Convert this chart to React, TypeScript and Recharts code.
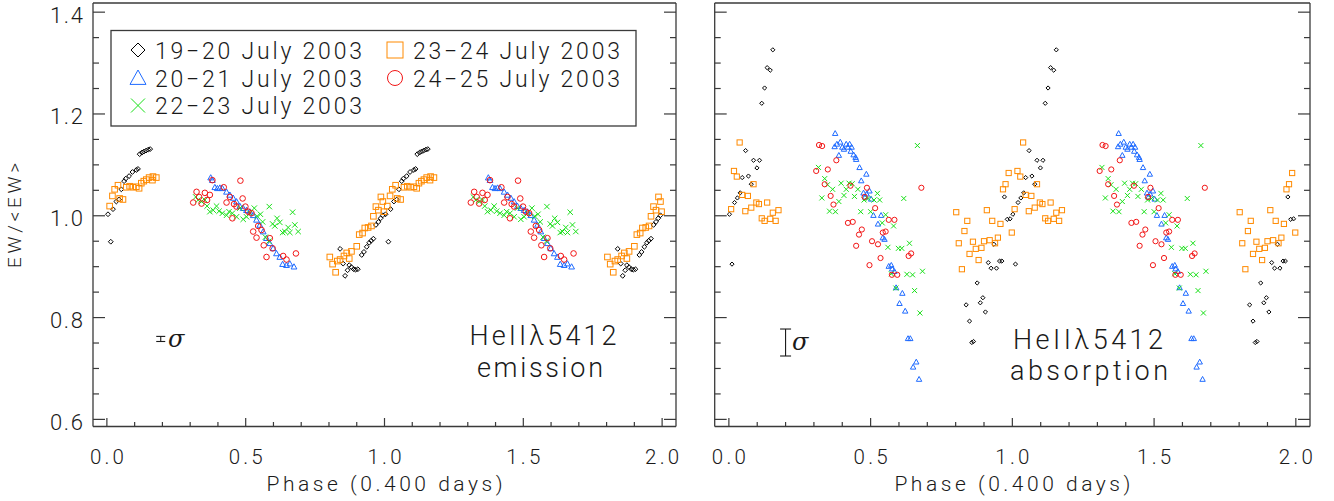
import React from "react";
import { ErrorBar, Scatter, ScatterChart, XAxis, YAxis } from "recharts";

type Pt = [number, number];

// phase-folded points for one cycle (phase 0-1); the plot shows the cycle twice
const seriesNames = [
  "19\u221220 July 2003",
  "20\u221221 July 2003",
  "22\u221223 July 2003",
  "23\u221224 July 2003",
  "24\u221225 July 2003"
];
const seriesColors = ["#000000", "#1f6bff", "#18e018", "#ff8a00", "#f21515"];
const seriesShapes = ["diamond", "triangle", "cross", "square", "circle"];

// HeII 5412 emission
const emJul19: Pt[] = [
  [0.004, 1.003], [0.014, 0.949], [0.022, 1.013], [0.034, 1.028], [0.044, 1.032], [0.052, 1.052],
  [0.062, 1.068], [0.068, 1.073], [0.08, 1.078], [0.092, 1.086], [0.106, 1.09], [0.112, 1.092],
  [0.118, 1.121], [0.126, 1.124], [0.133, 1.126], [0.141, 1.128], [0.149, 1.13], [0.156, 1.131],
  [0.84, 0.935], [0.851, 0.906], [0.858, 0.882], [0.867, 0.893], [0.873, 0.903], [0.881, 0.899],
  [0.889, 0.895], [0.896, 0.894], [0.904, 0.895], [0.918, 0.923], [0.926, 0.929], [0.936, 0.939],
  [0.945, 0.947], [0.952, 0.951], [0.96, 0.955], [0.969, 0.982], [0.978, 0.988], [0.986, 0.995],
  [0.994, 1.001]
];
const emJul20: Pt[] = [
  [0.374, 1.075], [0.38, 1.07], [0.389, 1.056], [0.398, 1.054], [0.407, 1.055], [0.416, 1.054],
  [0.431, 1.047], [0.443, 1.041], [0.455, 1.035], [0.467, 1.028], [0.479, 1.019], [0.491, 1.015],
  [0.503, 1.011], [0.515, 1.008], [0.527, 1.001], [0.539, 0.992], [0.551, 0.982], [0.563, 0.969],
  [0.575, 0.956], [0.587, 0.946], [0.599, 0.936], [0.611, 0.926], [0.623, 0.919], [0.633, 0.905],
  [0.647, 0.903], [0.659, 0.906], [0.674, 0.9]
];
const emJul22: Pt[] = [
  [0.32, 1.037], [0.329, 1.031], [0.341, 1.028], [0.353, 1.031], [0.361, 1.019], [0.371, 1.008],
  [0.383, 1.011], [0.395, 1.019], [0.404, 1.009], [0.416, 1.005], [0.431, 1.001], [0.44, 1.008],
  [0.452, 1.005], [0.467, 0.998], [0.479, 1.015], [0.491, 0.993], [0.503, 0.998], [0.515, 1.005],
  [0.531, 1.015], [0.541, 0.999], [0.553, 1.003], [0.561, 0.988], [0.571, 0.958], [0.583, 0.95],
  [0.585, 1.018], [0.597, 0.984], [0.605, 0.98], [0.613, 0.995], [0.623, 0.987], [0.633, 0.967],
  [0.641, 0.969], [0.653, 0.977], [0.659, 0.967], [0.669, 1.007], [0.677, 0.982], [0.689, 0.969]
];
const emJul23: Pt[] = [
  [0.01, 1.019], [0.02, 1.039], [0.028, 1.052], [0.04, 1.06], [0.046, 1.034], [0.058, 1.032],
  [0.07, 1.056], [0.082, 1.058], [0.094, 1.056], [0.106, 1.057], [0.116, 1.054], [0.124, 1.064],
  [0.133, 1.068], [0.142, 1.071], [0.152, 1.075], [0.164, 1.07], [0.166, 1.077], [0.178, 1.075],
  [0.803, 0.919], [0.813, 0.905], [0.824, 0.889], [0.83, 0.911], [0.84, 0.914], [0.854, 0.921],
  [0.864, 0.927], [0.873, 0.916], [0.881, 0.93], [0.9, 0.94], [0.909, 0.963], [0.921, 0.966],
  [0.929, 0.976], [0.941, 0.977], [0.953, 0.98], [0.96, 0.999], [0.969, 1.018], [0.978, 1.011],
  [0.987, 1.037], [0.994, 1.028], [0.998, 1.008]
];
const emJul24: Pt[] = [
  [0.311, 1.026], [0.323, 1.047], [0.332, 1.037], [0.341, 1.024], [0.353, 1.045], [0.361, 1.031],
  [0.371, 1.041], [0.38, 1.07], [0.421, 1.056], [0.431, 1.026], [0.443, 1.037], [0.452, 0.995],
  [0.458, 1.023], [0.467, 1.018], [0.481, 1.069], [0.489, 1.034], [0.499, 1.018], [0.509, 1.008],
  [0.521, 1.005], [0.527, 0.969], [0.539, 0.957], [0.545, 0.98], [0.557, 0.972], [0.565, 0.942],
  [0.575, 0.919], [0.587, 0.956], [0.597, 0.936], [0.635, 0.921], [0.647, 0.914], [0.681, 0.926]
];

// HeII 5412 absorption
const abJul19: Pt[] = [
  [0.002, 1.003], [0.011, 0.905], [0.02, 1.026], [0.03, 1.035], [0.04, 1.045], [0.047, 1.075],
  [0.059, 1.128], [0.069, 1.078], [0.079, 1.062], [0.087, 1.109], [0.099, 1.094], [0.108, 1.109],
  [0.116, 1.221], [0.126, 1.251], [0.135, 1.291], [0.146, 1.286], [0.155, 1.326],
  [0.837, 0.825], [0.849, 0.793], [0.857, 0.751], [0.863, 0.753], [0.876, 0.868], [0.887, 0.829],
  [0.896, 0.839], [0.905, 0.811], [0.915, 0.908], [0.925, 0.897], [0.935, 0.944], [0.944, 0.897],
  [0.955, 0.911], [0.963, 0.911], [0.972, 1.037], [0.982, 0.993], [0.992, 0.994]
];
const abJul20: Pt[] = [
  [0.373, 1.136], [0.375, 1.162], [0.381, 1.141], [0.388, 1.119], [0.393, 1.145], [0.4, 1.135],
  [0.406, 1.131], [0.414, 1.141], [0.42, 1.135], [0.426, 1.141], [0.43, 1.127], [0.433, 1.135],
  [0.44, 1.12], [0.447, 1.115], [0.449, 1.111], [0.461, 1.095], [0.467, 1.069], [0.475, 1.045],
  [0.48, 1.037], [0.485, 1.082], [0.486, 1.043], [0.496, 1.049], [0.502, 1.033], [0.51, 1.001],
  [0.526, 0.984], [0.537, 1.001], [0.543, 0.957], [0.549, 0.954], [0.564, 0.901], [0.573, 0.903],
  [0.576, 0.896], [0.584, 0.891], [0.59, 0.859], [0.602, 0.828], [0.612, 0.848], [0.622, 0.813],
  [0.632, 0.759], [0.64, 0.759], [0.65, 0.703], [0.661, 0.713], [0.671, 0.679]
];
const abJul22: Pt[] = [
  [0.316, 1.095], [0.328, 1.035], [0.338, 1.073], [0.348, 1.061], [0.355, 1.009], [0.366, 1.052],
  [0.376, 1.008], [0.388, 1.028], [0.396, 1.064], [0.406, 1.04], [0.414, 1.052], [0.424, 1.064],
  [0.435, 1.063], [0.443, 1.038], [0.455, 1.052], [0.465, 1.008], [0.477, 1.031], [0.491, 1.034],
  [0.5, 1.008], [0.512, 1.031], [0.524, 1.044], [0.532, 1.031], [0.541, 0.986], [0.553, 1.002],
  [0.561, 0.938], [0.573, 0.886], [0.581, 0.98], [0.589, 0.858], [0.598, 0.936], [0.61, 0.936],
  [0.617, 1.034], [0.628, 0.885], [0.637, 0.946], [0.648, 0.884], [0.655, 0.853], [0.665, 1.138],
  [0.674, 0.809], [0.683, 0.891]
];
const abJul23: Pt[] = [
  [0.008, 1.013], [0.018, 1.088], [0.028, 1.077], [0.038, 1.144], [0.047, 1.041], [0.058, 1.009],
  [0.067, 1.039], [0.079, 1.016], [0.087, 1.062], [0.097, 1.026], [0.106, 1.023], [0.116, 0.995],
  [0.126, 0.99], [0.135, 1.026], [0.146, 0.994], [0.155, 1.006], [0.165, 0.99], [0.175, 1.011],
  [0.802, 1.007], [0.811, 0.946], [0.822, 0.895], [0.831, 0.97], [0.841, 0.99], [0.849, 0.925],
  [0.861, 0.949], [0.871, 0.935], [0.881, 0.913], [0.891, 0.937], [0.9, 0.95], [0.91, 1.011],
  [0.92, 0.952], [0.929, 0.99], [0.939, 0.946], [0.949, 0.957], [0.958, 0.984], [0.967, 1.052],
  [0.976, 1.062], [0.987, 1.084], [0.998, 0.967]
];
const abJul24: Pt[] = [
  [0.308, 1.088], [0.318, 1.139], [0.329, 1.137], [0.338, 1.062], [0.349, 1.091], [0.359, 1.039],
  [0.369, 1.022], [0.379, 1.109], [0.42, 0.986], [0.429, 1.059], [0.437, 0.988], [0.449, 0.941],
  [0.459, 0.963], [0.469, 0.973], [0.479, 1.037], [0.487, 1.055], [0.496, 0.903], [0.505, 0.95],
  [0.516, 1.015], [0.526, 0.944], [0.535, 0.917], [0.543, 0.967], [0.553, 0.969], [0.564, 0.992],
  [0.575, 0.884], [0.584, 0.992], [0.594, 0.884], [0.634, 0.921], [0.643, 0.926], [0.679, 1.055]
];

// typical error bar (phase, EW, sigma)
const emSigma = [{ x: 0.194, y: 0.758, err: 0.005 }];
const abSigma = [{ x: 0.2, y: 0.751, err: 0.0265 }];

const xTicks = Array.from({ length: 21 }, (_, i) => i / 10);
const yTicks = Array.from({ length: 17 }, (_, i) => 0.6 + i * 0.05);

const X_DOMAIN: [number, number] = [-0.05, 2.05];
const Y_DOMAIN: [number, number] = [0.586, 1.418];
const AXIS = "#3a3a3a";
const INK = "#1a1a1a";
const FONT = "Roboto, 'DejaVu Sans', sans-serif";

function twoCycles(pts: Pt[]) {
  return pts.flatMap(([p, v]) => [{ x: p, y: v }, { x: p + 1, y: v }]);
}

const isMultiple = (v: number, step: number) => Math.abs(v / step - Math.round(v / step)) < 1e-6;

function Marker({ kind, color, cx, cy, s }: { kind: string; color: string; cx: number; cy: number; s: number }) {
  const common = { fill: "none", stroke: color, strokeWidth: 1 };
  if (kind === "diamond")
    return <path d={`M${cx},${cy - s}L${cx + s},${cy}L${cx},${cy + s}L${cx - s},${cy}Z`} {...common} />;
  if (kind === "triangle")
    return <path d={`M${cx},${cy - s}L${cx + s},${cy + s * 0.8}L${cx - s},${cy + s * 0.8}Z`} {...common} />;
  if (kind === "cross")
    return <path d={`M${cx - s},${cy - s}L${cx + s},${cy + s}M${cx - s},${cy + s}L${cx + s},${cy - s}`} {...common} />;
  if (kind === "square") return <rect x={cx - s} y={cy - s} width={2 * s} height={2 * s} {...common} />;
  return <circle cx={cx} cy={cy} r={s} {...common} />;
}

// inward tick marks (major/minor) plus optional labels
function bottomTick(props: any) {
  const { x, y, payload } = props;
  const major = isMultiple(payload.value, 0.5);
  return (
    <g>
      <line x1={x} x2={x} y1={y} y2={y - (major ? 8.5 : 4.5)} stroke={AXIS} strokeWidth={1.2} />
      {major && (
        <text x={x} y={y + 37.5} textAnchor="middle" fontSize={20.5} fontWeight={300} fill={INK} fontFamily={FONT} textLength={34} lengthAdjust="spacing">
          {Number(payload.value).toFixed(1)}
        </text>
      )}
    </g>
  );
}

function topTick(props: any) {
  const { x, y, payload } = props;
  const major = isMultiple(payload.value, 0.5);
  return <line x1={x} x2={x} y1={y} y2={y + (major ? 6 : 4.5)} stroke={AXIS} strokeWidth={1.2} />;
}

function leftTick(props: any, labels: boolean) {
  const { x, y, payload } = props;
  const major = isMultiple(payload.value, 0.2);
  return (
    <g>
      <line x1={x} x2={x + (major ? 12 : 6)} y1={y} y2={y} stroke={AXIS} strokeWidth={1.2} />
      {labels && major && (
        <text x={x - 10} y={y + 10.5} textAnchor="end" fontSize={22} fontWeight={300} fill={INK} fontFamily={FONT} textLength={33} lengthAdjust="spacing">
          {Number(payload.value).toFixed(1)}
        </text>
      )}
    </g>
  );
}

function rightTick(props: any) {
  const { x, y, payload } = props;
  const major = isMultiple(payload.value, 0.2);
  return <line x1={x} x2={x - (major ? 12 : 6)} y1={y} y2={y} stroke={AXIS} strokeWidth={1.2} />;
}

type PanelProps = {
  series: Pt[][];
  sizes: number[];
  sigma: { x: number; y: number; err: number }[];
  sigmaCap: number;
  showYLabels: boolean;
  width: number;
  margin: { top: number; right: number; bottom: number; left: number };
};

function Panel({ series, sizes, sigma, sigmaCap, showYLabels, width, margin }: PanelProps) {
  const axisLine = { stroke: AXIS, strokeWidth: 1.3 };
  return (
    <ScatterChart width={width} height={501} margin={margin}>
      <XAxis xAxisId="x" dataKey="x" type="number" domain={X_DOMAIN} allowDataOverflow ticks={xTicks} interval={0}
        height={74.5} tickSize={0} tickMargin={0} tickLine={false} axisLine={axisLine} tick={bottomTick} />
      <XAxis xAxisId="xt" orientation="top" type="number" domain={X_DOMAIN} allowDataOverflow ticks={xTicks} interval={0}
        mirror tickSize={0} tickMargin={0} tickLine={false} axisLine={axisLine} tick={topTick} />
      <YAxis yAxisId="y" dataKey="y" type="number" domain={Y_DOMAIN} allowDataOverflow ticks={yTicks} interval={0}
        width={93} mirror={!showYLabels} tickSize={0} tickMargin={0} tickLine={false} axisLine={axisLine}
        tick={(p: any) => leftTick(p, showYLabels)} />
      <YAxis yAxisId="yr" orientation="right" type="number" domain={Y_DOMAIN} allowDataOverflow ticks={yTicks} interval={0}
        mirror tickSize={0} tickMargin={0} tickLine={false} axisLine={axisLine} tick={rightTick} />
      {series.map((pts, i) => (
        <Scatter
          key={seriesNames[i]}
          name={seriesNames[i]}
          data={twoCycles(pts)}
          xAxisId="x"
          yAxisId="y"
          isAnimationActive={false}
          shape={(p: any) => <Marker kind={seriesShapes[i]} color={seriesColors[i]} cx={p.cx} cy={p.cy} s={sizes[i]} />}
        />
      ))}
      <Scatter data={sigma} xAxisId="x" yAxisId="y" isAnimationActive={false} shape={() => <g />}>
        <ErrorBar dataKey="err" direction="y" width={sigmaCap} stroke={INK} strokeWidth={1.1} isAnimationActive={false} />
      </Scatter>
    </ScatterChart>
  );
}

function Legend() {
  const slots = [
    { sx: 138, tx: 155, y: 50 },
    { sx: 138, tx: 155, y: 78 },
    { sx: 138, tx: 155, y: 105.5 },
    { sx: 395, tx: 413, y: 50 },
    { sx: 395, tx: 413, y: 78 }
  ];
  const legendSize = [7, 8, 7, 8, 7.5];
  return (
    <g>
      <rect x={111} y={30.5} width={525} height={95.5} fill="#fff" stroke={AXIS} strokeWidth={1.3} />
      {seriesNames.map((name, i) => (
        <g key={name}>
          <Marker kind={seriesShapes[i]} color={seriesColors[i]} cx={slots[i].sx} cy={slots[i].y} s={legendSize[i]} />
          <text x={slots[i].tx} y={slots[i].y + 8.5} fontSize={23} fontWeight={300} fill={INK} fontFamily={FONT} textLength={207} lengthAdjust="spacing">
            {name}
          </text>
        </g>
      ))}
    </g>
  );
}

export default function App() {
  const txt = { fontFamily: FONT, fontWeight: 300, fill: INK } as const;
  return (
    <div style={{ position: "absolute", left: 0, top: 0, width: 1334, height: 501, background: "#fff" }}>
      <div style={{ position: "absolute", left: 0, top: 0 }}>
        <Panel
          series={[emJul19, emJul20, emJul22, emJul23, emJul24]}
          sizes={[2.4, 2.9, 2.7, 2.8, 2.8]}
          sigma={emSigma}
          sigmaCap={4.5}
          showYLabels
          width={690}
          margin={{ top: 3, right: 14, bottom: 0, left: 0 }}
        />
      </div>
      <div style={{ position: "absolute", left: 700, top: 0 }}>
        <Panel
          series={[abJul19, abJul20, abJul22, abJul23, abJul24]}
          sizes={[2.1, 2.7, 2.5, 2.6, 2.6]}
          sigma={abSigma}
          sigmaCap={5.5}
          showYLabels={false}
          width={634}
          margin={{ top: 3, right: 24, bottom: 0, left: 14.7 }}
        />
      </div>
      <svg width={1334} height={501} style={{ position: "absolute", left: 0, top: 0, pointerEvents: "none" }}>
        <Legend />
        <text x={20.7} y={215.5} transform="rotate(-90 20.7 215.5)" textAnchor="middle" fontSize={19} textLength={105} lengthAdjust="spacing" {...txt}>
          EW/&lt;EW&gt;
        </text>
        <text x={384.5} y={490.5} textAnchor="middle" fontSize={21} textLength={236} lengthAdjust="spacing" {...txt}>
          Phase (0.400 days)
        </text>
        <text x={1012.4} y={490.5} textAnchor="middle" fontSize={21} textLength={236} lengthAdjust="spacing" {...txt}>
          Phase (0.400 days)
        </text>
        <text x={543} y={345} textAnchor="middle" fontSize={27} textLength={147} lengthAdjust="spacing" {...txt}>
          HeII{"\u03bb"}5412
        </text>
        <text x={540} y={377} textAnchor="middle" fontSize={27} textLength={126} lengthAdjust="spacing" {...txt}>
          emission
        </text>
        <text x={1088} y={349} textAnchor="middle" fontSize={27} textLength={150} lengthAdjust="spacing" {...txt}>
          HeII{"\u03bb"}5412
        </text>
        <text x={1089} y={380} textAnchor="middle" fontSize={27} textLength={158} lengthAdjust="spacing" {...txt}>
          absorption
        </text>
        <text x={168} y={347} fontSize={24} fontStyle="italic" fontFamily="'DejaVu Serif', serif" fill={INK}>
          {"\u03c3"}
        </text>
        <text x={792} y={350} fontSize={24} fontStyle="italic" fontFamily="'DejaVu Serif', serif" fill={INK}>
          {"\u03c3"}
        </text>
      </svg>
    </div>
  );
}
